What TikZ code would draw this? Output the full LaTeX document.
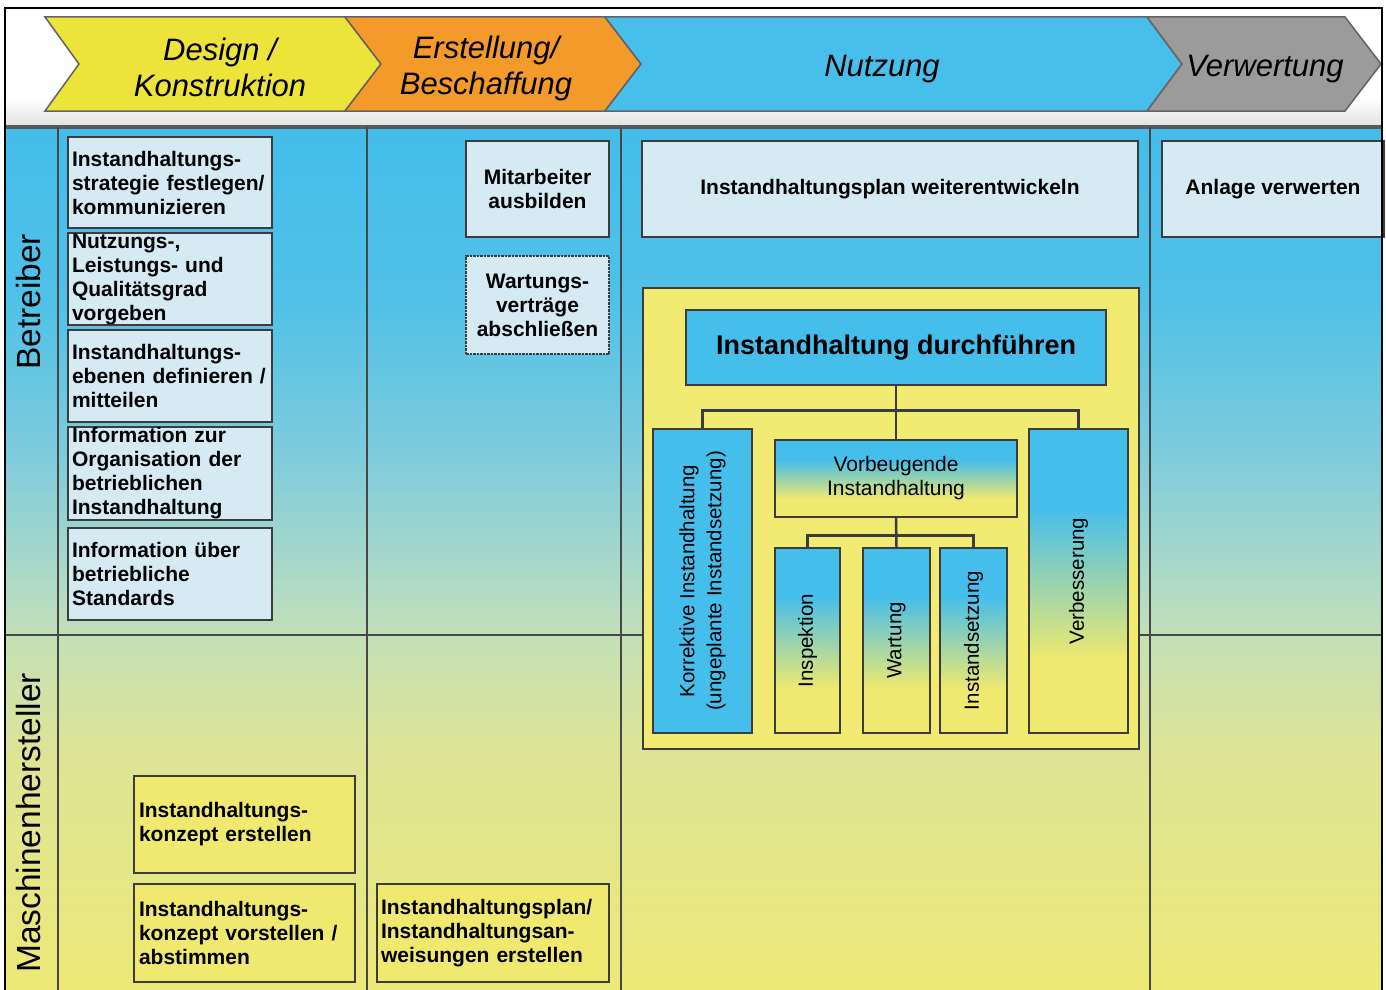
\documentclass[tikz,border=0pt]{standalone}
\usepackage{fontspec}
\setmainfont{Liberation Sans}
\usetikzlibrary{calc}
\definecolor{cBord}{HTML}{3C3C3C}
\definecolor{cLine}{HTML}{474747}
\definecolor{cLight}{HTML}{D5EAF2}
\definecolor{cBlue}{HTML}{45BEEC}
\definecolor{cYel}{HTML}{EFE96F}
\definecolor{cCont}{HTML}{F1EB74}
\definecolor{chYel}{HTML}{ECE43A}
\definecolor{chOra}{HTML}{F39A2B}
\definecolor{chBlu}{HTML}{47BFEA}
\definecolor{chGry}{HTML}{9B9B9B}
\definecolor{lTop}{HTML}{44BDEB}
\definecolor{lA}{HTML}{50C1E8}
\definecolor{lB}{HTML}{7DCBDD}
\definecolor{lC}{HTML}{B5DCC3}
\definecolor{lD}{HTML}{C4E0B5}
\definecolor{lE}{HTML}{DDE496}
\definecolor{lBot}{HTML}{EDE977}
\pgfdeclareverticalshading{laneshade}{100bp}{color(0bp)=(lBot); color(25bp)=(lBot); color(39.1bp)=(lE); color(45.45bp)=(lD); color(47.75bp)=(lC); color(56.4bp)=(lB); color(65bp)=(lA); color(75bp)=(lTop); color(100bp)=(lTop)}
\pgfdeclareverticalshading{boxshade}{100bp}{color(0bp)=(cYel); color(25bp)=(cYel); color(37bp)=(cYel); color(62bp)=(cBlue); color(75bp)=(cBlue); color(100bp)=(cBlue)}
\tikzset{
  chev/.style={draw=cBord!80, line width=1.5pt, line join=miter},
  htext/.style={align=center, inner sep=0pt, font=\itshape\fontsize{31}{36}\selectfont},
  lanel/.style={draw=cLine, line width=2.5pt},
  lanelabel/.style={inner sep=0pt, font=\fontsize{33.5}{40}\selectfont},
  lbox/.style={draw=cBord, line width=2.5pt, fill=cLight, inner sep=0pt, font=\bfseries\fontsize{21}{24}\selectfont},
  ltext/.style={lbox, align=left},
  ctext/.style={lbox, align=center},
  ybox/.style={draw=cBord, line width=2.5pt, fill=cYel, inner sep=0pt, align=left, font=\bfseries\fontsize{21}{24}\selectfont},
  bbox/.style={draw=cBord, line width=2.5pt, fill=cBlue, inner sep=0pt},
  gbox/.style={draw=cBord, line width=2.5pt, shade, shading=boxshade, inner sep=0pt},
  rtext/.style={font=\fontsize{20.5}{27}\selectfont},
  conn/.style={draw=cBord, line width=2.5pt}
}
\begin{document}
\begin{tikzpicture}[x=1pt,y=-1pt]
\useasboundingbox (0,0) rectangle (1386,990);
\fill[white] (0,0) rectangle (1386,990);
\shade[top color=white, bottom color=black!12] (5,98) rectangle (1382,127);
% chevrons
\draw[chev, fill=chYel] (45,17) -- (345,17) -- (381,64) -- (345,111) -- (45,111) -- (79,64) -- cycle;
\draw[chev, fill=chOra] (345,17) -- (605,17) -- (641,64) -- (605,111) -- (345,111) -- (381,64) -- cycle;
\draw[chev, fill=chBlu] (605,17) -- (1147,17) -- (1182,64) -- (1147,111) -- (605,111) -- (641,64) -- cycle;
\draw[chev, fill=chGry] (1147,17) -- (1345,17) -- (1381,64) -- (1345,111) -- (1147,111) -- (1182,64) -- cycle;
\node[htext] (h1) at (220,67) {Design /\\Konstruktion};
\node[htext] (h2) at (486,68) {Erstellung/\\Beschaffung};
\node[htext] (h3) at (882,69) {Nutzung};
\node[htext] (h4) at (1265,69) {Verwertung};
% lanes
\shade[shading=laneshade] (5,127) rectangle (1382,995);
\draw[lanel, line width=4pt, draw=cLine!90] (5,127) -- (1382,127);
\draw[lanel] (58,127) -- (58,995);
\draw[lanel] (367,127) -- (367,995);
\draw[lanel] (621,127) -- (621,995);
\draw[lanel] (1150,127) -- (1150,995);
\draw[lanel] (5,635) -- (1382,635);
\node[lanelabel, rotate=90] (lb) at (29,302) {Betreiber};
\node[lanelabel, rotate=90] (lm) at (29,823) {Maschinenhersteller};
% Design column
\node[ltext, minimum width=204, minimum height=91, text width=196] (a1) at (170,182.5) {Instandhaltungs-\\strategie festlegen/\\kommunizieren};
\node[ltext, minimum width=204, minimum height=92, text width=196] (a2) at (170,279) {Nutzungs-,\\Leistungs- und\\Qualitätsgrad\\vorgeben};
\node[ltext, minimum width=204, minimum height=92, text width=196] (a3) at (170,376) {Instandhaltungs-\\ebenen definieren /\\mitteilen};
\node[ltext, minimum width=204, minimum height=93, text width=196] (a4) at (170,473.5) {Information zur\\Organisation der\\betrieblichen\\Instandhaltung};
\node[ltext, minimum width=204, minimum height=92, text width=196] (a5) at (170,574) {Information über\\betriebliche\\Standards};
% Erstellung column
\node[ctext, minimum width=143, minimum height=96] (m1) at (537.5,189) {Mitarbeiter\\ausbilden};
\node[ctext, densely dotted, minimum width=143, minimum height=98] (m2) at (537.5,305) {Wartungs-\\verträge\\abschließen};
% Nutzung column
\node[ctext, minimum width=496, minimum height=96] (n1) at (890,189) {\raisebox{-2pt}{Instandhaltungsplan weiterentwickeln}};
\node[draw=cBord, line width=2.5pt, fill=cCont, minimum width=496, minimum height=461, inner sep=0pt] (cont) at (891,518.5) {};
\node[bbox, minimum width=420, minimum height=75, font=\bfseries\fontsize{27}{32}\selectfont] (main) at (896,347.5) {\raisebox{-3pt}{Instandhaltung durchführen}};
\node[bbox, minimum width=99, minimum height=304, rtext] (kor) at (702.5,581) {\rotatebox{90}{\begin{tabular}{@{}c@{}}Korrektive Instandhaltung\\(ungeplante Instandsetzung)\end{tabular}}};
\node[gbox, minimum width=242, minimum height=77, align=center, font=\fontsize{21}{24}\selectfont] (vb) at (896,478.5) {Vorbeugende\\Instandhaltung};
\node[gbox, minimum width=99, minimum height=304, rtext] (verb) at (1078.5,581) {\rotatebox{90}{Verbesserung}};
\node[gbox, minimum width=65, minimum height=185, rtext] (insp) at (807.5,640.5) {\rotatebox{90}{Inspektion}};
\node[gbox, minimum width=67, minimum height=185, rtext] (wart) at (896.5,640.5) {\rotatebox{90}{Wartung}};
\node[gbox, minimum width=67, minimum height=185, rtext] (inst) at (973.5,640.5) {\rotatebox{90}{Instandsetzung}};
\draw[conn] (main.south) -- (vb.north);
\draw[conn] (main.south) -- ++(0,24) -| (kor.north);
\draw[conn] (main.south) -- ++(0,24) -| (verb.north);
\draw[conn] (vb.south) -- (wart.north);
\draw[conn] (vb.south) -- ++(0,17) -| (insp.north);
\draw[conn] (vb.south) -- ++(0,17) -| (inst.north);
% Verwertung column
\node[ctext, minimum width=222, minimum height=96] (anl) at (1273,189) {\raisebox{-2pt}{Anlage verwerten}};
% Maschinenhersteller lane
\node[ybox, minimum width=221, minimum height=97, text width=211] (b1) at (244.5,824.5) {Instandhaltungs-\\konzept erstellen};
\node[ybox, minimum width=221, minimum height=98, text width=211] (b2) at (244.5,933) {Instandhaltungs-\\konzept vorstellen /\\abstimmen};
\node[ybox, minimum width=232, minimum height=98, text width=224] (b3) at (493,933) {Instandhaltungsplan/\\Instandhaltungsan-\\weisungen erstellen};
% frame
\draw[black, line width=1.5pt] (5,995) -- (5,8) -- (1382,8) -- (1382,995);
\end{tikzpicture}
\end{document}
